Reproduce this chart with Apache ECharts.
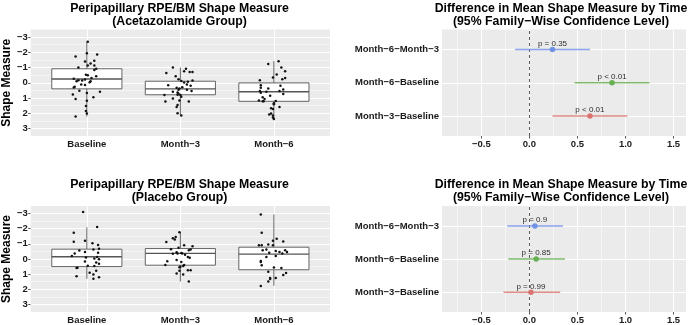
<!DOCTYPE html>
<html>
<head>
<meta charset="utf-8">
<script src="https://cdn.jsdelivr.net/npm/echarts@6/dist/echarts.min.js"></script>
<style>
html, body { margin: 0; padding: 0; background: #fff; }
#chart { width: 689px; height: 325px; }
</style>
</head>
<body>
<div id="chart"></div>
<script>
const groups = ['Baseline', 'Month−3', 'Month−6'];
const shapeTicks = [-3, -2, -1, 0, 1, 2, 3];
const shapeMinor = [-2.5, -1.5, -0.5, 0.5, 1.5, 2.5];

// box stats per time point: [lower whisker, Q1, median, Q3, upper whisker]
const acetBoxes = [
    [-2.70, -0.92, -0.25, 0.40, 2.22],
    [-1.00, -0.10, 0.40, 0.79, 2.13],
    [-1.42, 0.01, 0.59, 1.22, 2.39]
];
const placBoxes = [
    [-2.09, -0.65, -0.15, 0.50, 1.31],
    [-1.77, -0.69, -0.37, 0.41, 1.49],
    [-2.94, -0.78, -0.32, 0.71, 1.77]
];

// jittered points: [offset from group centre, shape measure]
const acetBaseline = [[0.01,-2.70],[-0.12,-1.72],[0.11,-1.85],[0.00,-1.94],[-0.02,-1.40],[0.08,-1.44],[0.04,-1.27],[-0.09,-1.01],[0.01,-1.14],[0.08,-1.14],[0.10,-0.92],[0.08,-0.84],[-0.01,-0.53],[0.01,-0.49],[0.10,-0.42],[0.05,-0.32],[-0.02,-0.21],[-0.14,-0.27],[-0.09,-0.17],[-0.11,-0.10],[-0.05,-0.14],[0.03,-0.04],[0.04,-0.10],[-0.06,0.12],[-0.13,0.27],[-0.14,0.32],[-0.02,0.14],[-0.08,0.53],[0.14,0.59],[0.00,0.68],[-0.15,0.77],[0.07,0.96],[-0.12,1.07],[0.00,1.18],[-0.01,1.52],[-0.01,1.85],[0.00,2.02],[-0.12,2.22]];
const acetMonth3 = [[-0.08,-1.01],[0.06,-0.92],[0.04,-0.75],[0.10,-0.71],[0.13,-0.71],[-0.15,-0.64],[-0.05,-0.42],[-0.02,-0.23],[0.01,-0.12],[0.08,-0.06],[0.13,-0.14],[0.04,-0.01],[0.07,0.12],[-0.13,0.16],[0.11,0.20],[0.02,0.29],[-0.04,0.33],[-0.01,0.38],[-0.02,0.46],[0.07,0.46],[0.12,0.55],[-0.08,0.59],[-0.03,0.64],[-0.02,0.72],[-0.17,0.81],[-0.03,0.79],[0.00,0.81],[0.01,0.92],[-0.08,1.03],[-0.01,1.16],[-0.16,1.24],[0.09,1.24],[-0.03,1.46],[-0.04,1.59],[-0.03,2.00],[0.01,2.15]];
const acetMonth6 = [[0.05,-1.42],[-0.06,-1.23],[0.08,-1.01],[0.12,-0.75],[0.03,-0.55],[-0.01,-0.34],[0.12,-0.31],[0.09,-0.23],[-0.15,-0.16],[-0.14,0.16],[0.07,0.20],[-0.06,0.38],[-0.14,0.33],[0.10,0.44],[-0.15,0.55],[-0.08,0.59],[-0.14,0.66],[0.06,0.55],[0.10,0.74],[-0.04,0.85],[-0.12,0.96],[-0.10,1.07],[-0.16,1.16],[-0.12,1.22],[-0.11,1.22],[0.02,1.20],[0.00,1.35],[0.00,1.42],[0.06,1.59],[-0.03,1.68],[-0.01,1.72],[-0.03,2.02],[-0.05,2.08],[-0.01,2.15],[-0.01,2.28],[0.00,2.39]];
const placBaseline = [[-0.04,-3.11],[0.11,-2.12],[-0.14,-1.73],[-0.14,-1.14],[-0.02,-1.21],[0.06,-1.04],[0.12,-0.93],[-0.08,-0.56],[-0.02,-0.47],[0.07,-0.63],[0.13,-0.68],[-0.13,-0.37],[-0.16,-0.20],[-0.01,-0.10],[0.12,-0.42],[0.11,-0.14],[0.13,0.02],[0.08,-0.03],[-0.02,0.17],[0.10,0.23],[0.13,0.31],[0.01,0.45],[0.08,0.47],[-0.10,0.58],[-0.11,0.60],[0.10,0.77],[0.03,0.90],[0.07,1.03],[-0.11,1.14],[0.13,1.21],[0.07,1.31]];
const placMonth3 = [[-0.01,-1.77],[-0.05,-1.45],[-0.08,-1.37],[-0.06,-1.28],[-0.15,-1.12],[0.04,-0.91],[0.13,-0.84],[-0.02,-0.75],[-0.10,-0.65],[0.11,-0.63],[0.09,-0.58],[-0.04,-0.45],[-0.08,-0.34],[0.01,-0.39],[0.02,-0.37],[-0.03,-0.36],[0.05,-0.28],[0.08,-0.13],[0.10,-0.08],[-0.04,0.06],[-0.14,0.15],[0.01,0.19],[-0.16,0.39],[0.04,0.39],[0.03,0.47],[0.00,0.51],[-0.01,0.55],[0.08,0.75],[0.11,0.75],[-0.01,0.77],[-0.04,0.95],[0.03,1.03],[0.09,1.49]];
const placMonth6 = [[-0.14,-2.94],[-0.13,-1.73],[0.03,-1.34],[-0.01,-1.21],[0.10,-1.16],[-0.06,-0.95],[-0.16,-0.91],[-0.13,-0.91],[-0.01,-0.91],[-0.12,-0.58],[-0.08,-0.62],[0.02,-0.53],[0.06,-0.47],[0.12,-0.58],[0.14,-0.47],[-0.05,-0.41],[0.09,-0.36],[-0.08,-0.13],[0.02,-0.20],[-0.14,0.13],[-0.14,0.19],[-0.13,0.41],[0.00,0.56],[0.08,0.60],[-0.06,0.84],[0.13,0.93],[0.10,1.06],[0.02,1.25],[-0.04,1.25],[-0.04,1.32],[-0.06,1.49],[-0.14,1.79]];

// Tukey comparisons, bottom to top
const comparisons = ['Month−3−Baseline', 'Month−6−Baseline', 'Month−6−Month−3'];
const diffTicks = [-0.5, 0, 0.5, 1, 1.5];
const diffMinor = [-0.75, -0.25, 0.25, 0.75, 1.25];
const acetDiff = [0.63, 0.86, 0.24];
const acetLower = [0.24, 0.47, -0.15];
const acetUpper = [1.02, 1.25, 0.63];
const acetP = ['p < 0.01', 'p < 0.01', 'p = 0.35'];
const placDiff = [0.016, 0.07, 0.057];
const placLower = [-0.27, -0.22, -0.23];
const placUpper = [0.32, 0.37, 0.35];
const placP = ['p = 0.99', 'p = 0.85', 'p = 0.9'];

const compColors = ['#d9716c', '#62ad4c', '#6c8fe6'];
const FONT = 'Liberation Sans';
const boxColor = '#555';

const minus = s => String(s).replace('-', '−');

function renderBox(params, api) {
    const x = api.value(0);
    const left = api.coord([x - 0.375, 0])[0];
    const right = api.coord([x + 0.375, 0])[0];
    const cx = api.coord([x, 0])[0];
    const y = i => api.coord([x, api.value(i)])[1];
    const yMin = y(1), yQ1 = y(2), yMed = y(3), yQ3 = y(4), yMax = y(5);
    const st = { stroke: boxColor, lineWidth: 0.9, fill: null };
    return {
        type: 'group',
        children: [
            { type: 'line', shape: { x1: cx, y1: yQ3, x2: cx, y2: yMax }, style: st },
            { type: 'line', shape: { x1: cx, y1: yQ1, x2: cx, y2: yMin }, style: st },
            { type: 'rect', shape: { x: left, y: Math.min(yQ1, yQ3), width: right - left, height: Math.abs(yQ3 - yQ1) },
              style: { fill: '#fff', stroke: boxColor, lineWidth: 0.9 } },
            { type: 'line', shape: { x1: left, y1: yMed, x2: right, y2: yMed }, style: { stroke: boxColor, lineWidth: 1.4 } }
        ]
    };
}

function renderErrorBar(params, api) {
    const pos = api.value(0);
    const a = api.coord([api.value(1), pos]);
    const b = api.coord([api.value(2), pos]);
    return {
        type: 'line',
        shape: { x1: a[0], y1: a[1], x2: b[0], y2: b[1] },
        style: { stroke: api.visual('color'), lineWidth: 1.5, opacity: 0.8 }
    };
}

function gridLines(idx, xMajor, xMinor, yMajor, yMinor) {
    const data = [];
    xMinor.forEach(v => data.push({ xAxis: v, lineStyle: { width: 0.5 } }));
    yMinor.forEach(v => data.push({ yAxis: v, lineStyle: { width: 0.5 } }));
    xMajor.forEach(v => data.push({ xAxis: v, lineStyle: { width: 1 } }));
    yMajor.forEach(v => data.push({ yAxis: v, lineStyle: { width: 1 } }));
    return {
        type: 'scatter', xAxisIndex: idx, yAxisIndex: idx, data: [], z: 1, silent: true,
        markLine: {
            z: 1, silent: true, symbol: ['none', 'none'], label: { show: false }, animation: false,
            lineStyle: { color: '#ffffff', type: 'solid', opacity: 1 },
            emphasis: { disabled: true },
            data: data
        }
    };
}

function jitter(list) {
    const out = [];
    list.forEach((pts, i) => pts.forEach(p => out.push([i + 1 + p[0], p[1]])));
    return out;
}

function boxPanel(idx, boxes, pointLists) {
    return [
        gridLines(idx, [1, 2, 3], [], shapeTicks, shapeMinor),
        {
            type: 'custom', xAxisIndex: idx, yAxisIndex: idx, z: 3,
            renderItem: renderBox,
            encode: { x: 0, y: [1, 2, 3, 4, 5] },
            data: boxes.map((b, i) => [i + 1].concat(b))
        },
        {
            type: 'scatter', xAxisIndex: idx, yAxisIndex: idx, z: 4,
            symbolSize: 2.5, itemStyle: { color: '#111', opacity: 1 },
            data: jitter(pointLists)
        }
    ];
}

function diffPanel(idx, diff, lower, upper, pvals) {
    return [
        gridLines(idx, diffTicks, diffMinor, [1, 2, 3], []),
        {
            type: 'scatter', xAxisIndex: idx, yAxisIndex: idx, data: [], z: 2, silent: true,
            markLine: {
                z: 2, silent: true, symbol: ['none', 'none'], label: { show: false }, animation: false,
                lineStyle: { color: '#333', type: [3, 3], width: 0.8 },
                data: [{ xAxis: 0 }]
            }
        },
        {
            type: 'custom', xAxisIndex: idx, yAxisIndex: idx, z: 3,
            renderItem: renderErrorBar,
            encode: { x: [1, 2], y: 0 },
            data: diff.map((d, i) => ({
                value: [i + 1, lower[i], upper[i]],
                itemStyle: { color: compColors[i] }
            }))
        },
        {
            type: 'scatter', xAxisIndex: idx, yAxisIndex: idx, z: 4, symbolSize: 5.5,
            data: diff.map((d, i) => ({
                value: [d, i + 1],
                itemStyle: { color: compColors[i], opacity: 0.95 },
                label: { formatter: pvals[i] }
            })),
            label: {
                show: true, position: 'top', distance: -1,
                fontFamily: FONT, fontSize: 8, color: '#222'
            }
        }
    ];
}

const labelStyle = { fontFamily: FONT, fontWeight: 'bold', fontSize: 9.5, color: '#1a1a1a' };

function groupX(idx) {
    return {
        type: 'value', gridIndex: idx, min: 0.4, max: 3.6,
        axisLine: { show: false }, splitLine: { show: false },
        axisTick: { show: true, customValues: [1, 2, 3], length: 2.5, lineStyle: { color: '#333', width: 0.8 } },
        axisLabel: Object.assign({ customValues: [1, 2, 3], margin: 3, formatter: v => groups[Math.round(v) - 1] }, labelStyle)
    };
}
function shapeY(idx) {
    return {
        type: 'value', gridIndex: idx, min: -3.5, max: 3.5, inverse: true,
        name: 'Shape Measure', nameLocation: 'middle', nameGap: 9,
        nameTextStyle: { fontFamily: FONT, fontWeight: 'bold', fontSize: 12, color: '#000' },
        axisLine: { show: false }, splitLine: { show: false },
        axisTick: { show: true, customValues: shapeTicks, length: 2.5, lineStyle: { color: '#333', width: 0.8 } },
        axisLabel: Object.assign({ customValues: shapeTicks, margin: 3, formatter: v => minus(v) }, labelStyle)
    };
}
function diffX(idx) {
    return {
        type: 'value', gridIndex: idx, min: -0.91, max: 1.63,
        axisLine: { show: false }, splitLine: { show: false },
        axisTick: { show: true, customValues: diffTicks, length: 2.5, lineStyle: { color: '#333', width: 0.8 } },
        axisLabel: Object.assign({ customValues: diffTicks, margin: 3, formatter: v => minus(v.toFixed(1)) }, labelStyle)
    };
}
function compY(idx) {
    return {
        type: 'value', gridIndex: idx, min: 0.4, max: 3.6,
        axisLine: { show: false }, splitLine: { show: false },
        axisTick: { show: true, customValues: [1, 2, 3], length: 2.5, lineStyle: { color: '#333', width: 0.8 } },
        axisLabel: Object.assign({ customValues: [1, 2, 3], margin: 3, formatter: v => comparisons[Math.round(v) - 1] }, labelStyle)
    };
}

function title(x, y, text) {
    return {
        type: 'text', x: x, y: y, silent: true,
        style: {
            text: text, align: 'center', verticalAlign: 'top',
            fontFamily: FONT, fontWeight: 'bold', fontSize: 12.3, lineHeight: 13, fill: '#000'
        }
    };
}

const chart = echarts.init(document.getElementById('chart'), null, { renderer: 'canvas' });
const gridBase = { show: true, backgroundColor: '#ebebeb', borderWidth: 0, containLabel: false };
chart.setOption({
    animation: false,
    backgroundColor: '#fff',
    grid: [
        Object.assign({ left: 29, top: 29.5, width: 301, height: 106.5 }, gridBase),
        Object.assign({ left: 442, top: 29.5, width: 244, height: 106.5 }, gridBase),
        Object.assign({ left: 29, top: 206, width: 301, height: 106.5 }, gridBase),
        Object.assign({ left: 442, top: 206, width: 244, height: 106.5 }, gridBase)
    ],
    xAxis: [groupX(0), diffX(1), groupX(2), diffX(3)],
    yAxis: [shapeY(0), compY(1), shapeY(2), compY(3)],
    graphic: [
        title(179.5, 2, 'Peripapillary RPE/BM Shape Measure\n(Acetazolamide Group)'),
        title(561, 2, 'Difference in Mean Shape Measure by Time\n(95% Family−Wise Confidence Level)'),
        title(179.5, 178.5, 'Peripapillary RPE/BM Shape Measure\n(Placebo Group)'),
        title(561, 178.5, 'Difference in Mean Shape Measure by Time\n(95% Family−Wise Confidence Level)')
    ],
    series: [].concat(
        boxPanel(0, acetBoxes, [acetBaseline, acetMonth3, acetMonth6]),
        diffPanel(1, acetDiff, acetLower, acetUpper, acetP),
        boxPanel(2, placBoxes, [placBaseline, placMonth3, placMonth6]),
        diffPanel(3, placDiff, placLower, placUpper, placP)
    )
});
</script>
</body>
</html>
